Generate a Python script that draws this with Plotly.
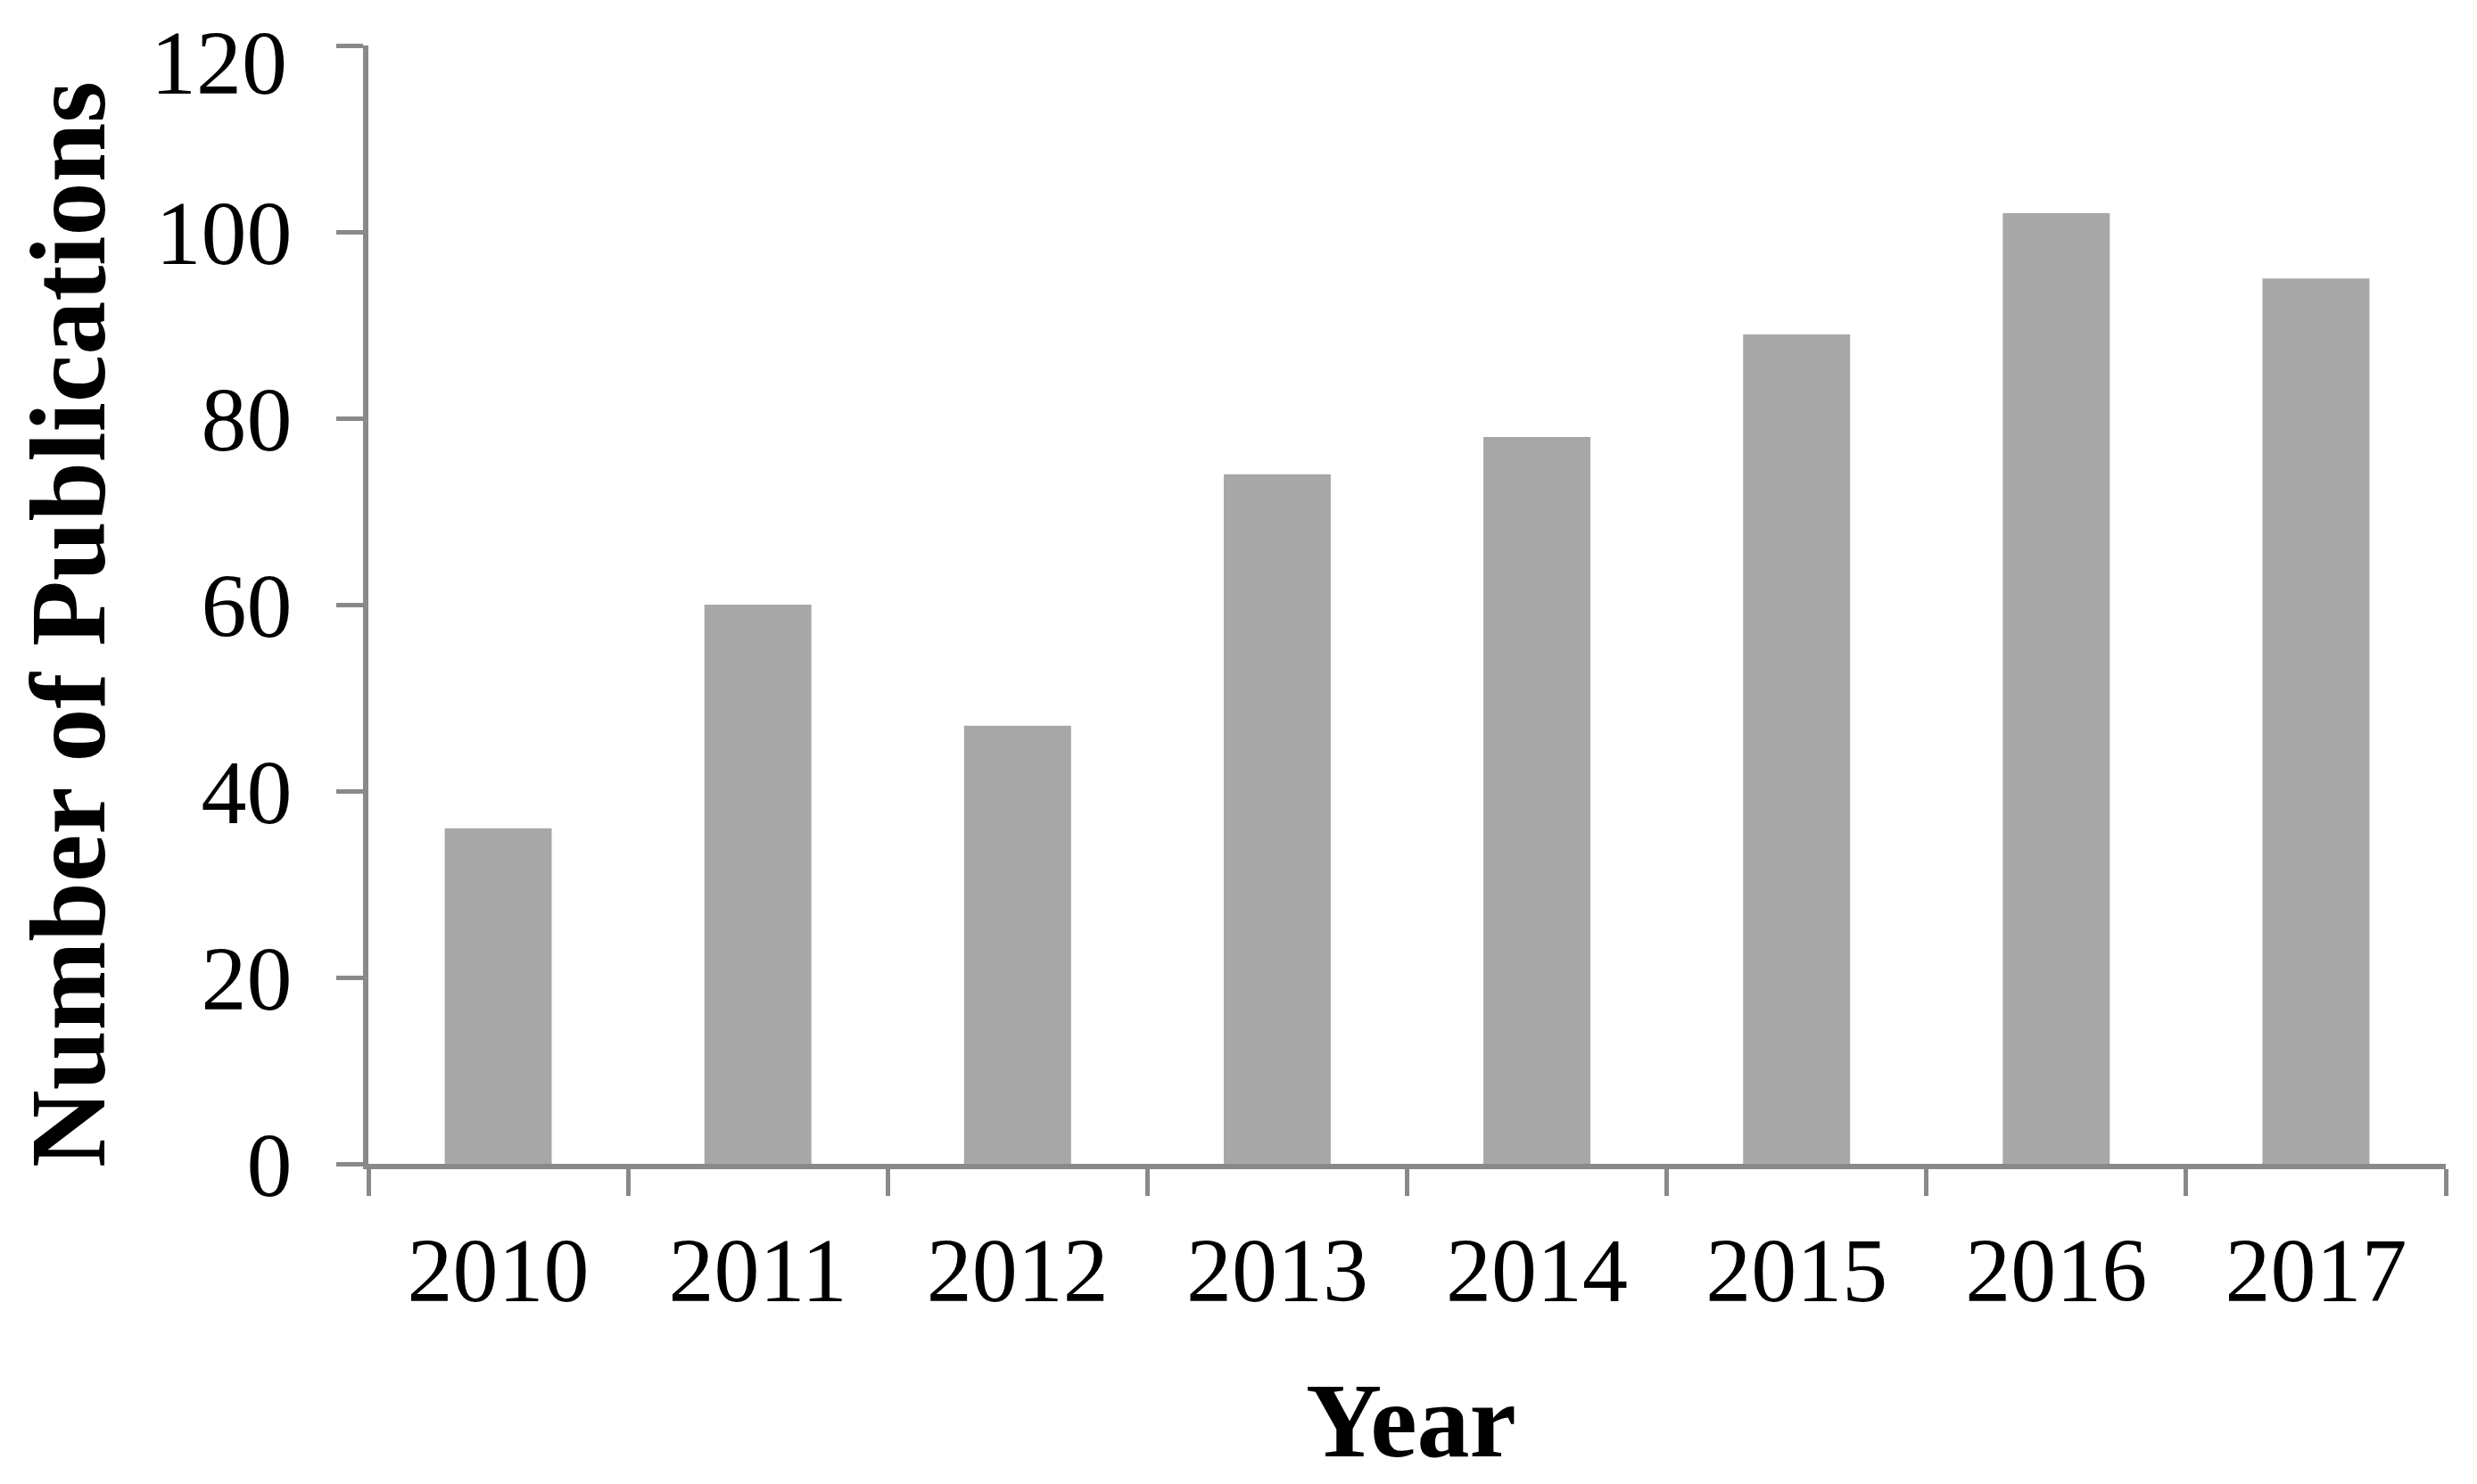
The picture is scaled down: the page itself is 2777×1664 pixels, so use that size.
import plotly.graph_objects as go

years = ["2010", "2011", "2012", "2013", "2014", "2015", "2016", "2017"]
publications = [36, 60, 47, 74, 78, 89, 102, 95]
y_ticks = [0, 20, 40, 60, 80, 100, 120]

W, H = 2777, 1664
L, R, T, B = 413, 35, 51, 359
pw, ph = W - L - R, H - T - B

axis_color = "#898989"
bar_color = "#a7a7a7"
font_family = "Liberation Serif, Times New Roman, serif"
tick_size = 102

fig = go.Figure(go.Bar(x=years, y=publications, marker=dict(color=bar_color, line=dict(width=0))))

fig.update_layout(
    width=W, height=H,
    margin=dict(l=L, r=R, t=T, b=B, autoexpand=False),
    plot_bgcolor="white", paper_bgcolor="white",
    bargap=0.588,
    showlegend=False,
    font=dict(family=font_family, color="black"),
)
fig.update_xaxes(
    type="category", automargin=False,
    showline=True, linecolor=axis_color, linewidth=6,
    ticks="outside", tickson="boundaries", ticklen=30, tickwidth=5, tickcolor=axis_color,
    tickfont=dict(size=tick_size, family=font_family, color="black"),
    ticklabelstandoff=26,
    showgrid=False, zeroline=False,
)
# top label (120) is drawn slightly lowered, as in the reference
fig.update_yaxes(
    range=[0, 120], automargin=False,
    tickvals=y_ticks,
    ticktext=[str(v) for v in y_ticks[:-1]] + [""],
    showline=True, linecolor=axis_color, linewidth=6,
    ticks="outside", ticklen=30, tickwidth=5, tickcolor=axis_color,
    tickfont=dict(size=tick_size, family=font_family, color="black"),
    ticklabelstandoff=29,
    showgrid=False, zeroline=False,
)
fig.add_annotation(
    text=str(y_ticks[-1]), xref="paper", yref="y",
    x=(324 - L) / pw, y=y_ticks[-1], xanchor="right", yanchor="middle",
    yshift=-19, showarrow=False,
    font=dict(size=tick_size, family=font_family, color="black"),
)

fig.add_annotation(
    text="<b>Number of Publications</b>", xref="paper", yref="paper",
    x=(76 - L) / pw, y=(H - B - 700) / ph, xanchor="center", yanchor="middle",
    textangle=-90, showarrow=False,
    font=dict(size=120, family=font_family, color="black"),
)
fig.add_annotation(
    text="<b>Year</b>", xref="paper", yref="paper",
    x=(1582 - L) / pw, y=(H - B - 1594) / ph, xanchor="center", yanchor="middle",
    showarrow=False,
    font=dict(size=118, family=font_family, color="black"),
)

fig.write_html(
    "out.html",
    config={"displayModeBar": False},
    post_script="document.body.style.margin='0';document.body.style.overflow='hidden';",
)
